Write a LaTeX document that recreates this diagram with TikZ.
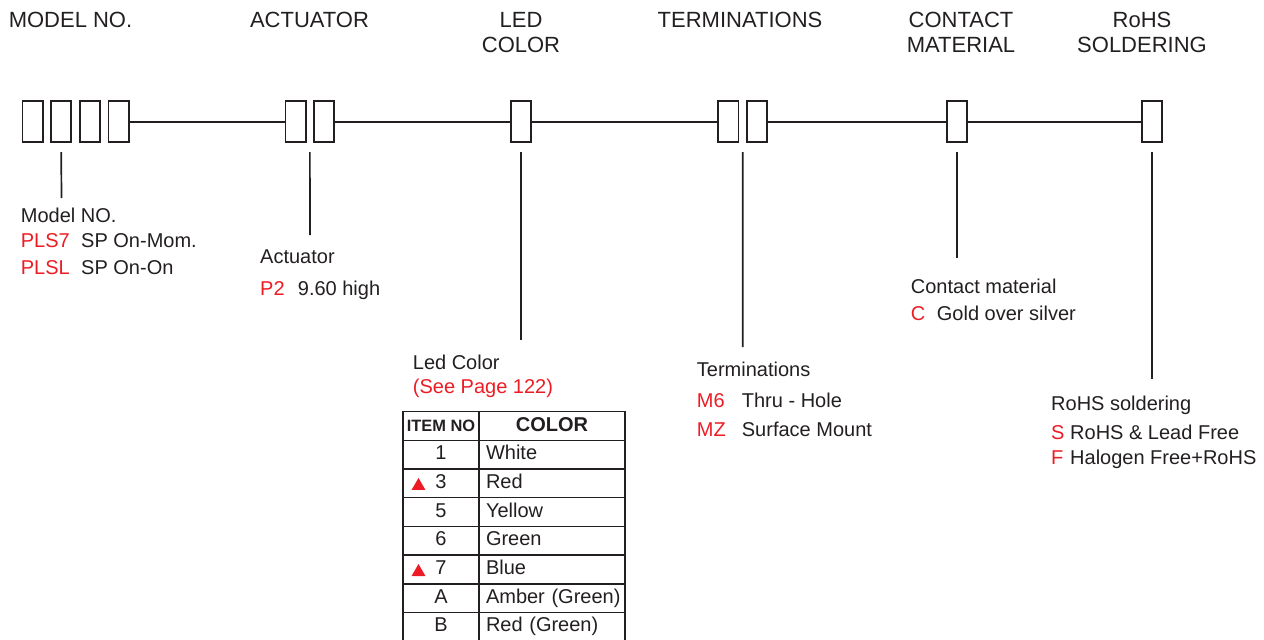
\documentclass[tikz,border=0pt]{standalone}
\usepackage{fontspec}
\setmainfont{Liberation Sans}
\usetikzlibrary{positioning,calc,shapes.geometric}
\definecolor{ink}{HTML}{231F20}
\definecolor{codered}{HTML}{ED1C24}
\newcommand{\code}[2]{\makebox[#1][l]{\textcolor{codered}{#2}}}

\begin{document}
\begin{tikzpicture}[x=1pt, y=-1pt, node distance=8.5pt, slot/.style={rectangle,draw=ink,line width=1.8pt,minimum width=20.2pt,minimum height=41.2pt,inner sep=0pt,outer sep=0pt}, bus/.style={draw=ink,line width=2pt}, lead/.style={draw=ink,line width=1.7pt}, head/.style={align=center,inner sep=0pt,text=ink,font=\fontsize{22}{25}\selectfont}, txt/.style={anchor=base west,inner sep=0pt,text=ink,font=\fontsize{20}{24}\selectfont}, cellno/.style={draw=ink,line width=1.4pt,minimum width=76pt,minimum height=28.7pt,inner sep=0pt,outer sep=0pt,text height=14pt,text depth=4pt,text=ink,font=\fontsize{20}{24}\selectfont}, cellcol/.style={cellno,minimum width=146pt,text width=132pt,align=left}, flag/.style={regular polygon,regular polygon sides=3,fill=codered,inner sep=0pt,minimum size=16pt}]
\useasboundingbox (0,0) rectangle (1264,640);
% column headings
\node[head,anchor=base] (hmodel) at (70.5,27.3) {MODEL NO.};
\node[head,anchor=base] (hact) at (309.5,27.3) {ACTUATOR};
\node[head,anchor=base] (hled) at (521,52.3) {LED\\COLOR};
\node[head,anchor=base] (hterm) at (740,27.3) {TERMINATIONS};
\node[head,anchor=base] (hcont) at (961,52.3) {CONTACT\\MATERIAL};
\node[head,anchor=base] (hrohs) at (1142,52.3) {RoHS\\SOLDERING};
% code slots
\node[slot] (m1) at (32.5,121.5) {};
\node[slot,right=of m1] (m2) {};
\node[slot,right=of m2] (m3) {};
\node[slot,right=of m3] (m4) {};
\node[slot] (a1) at (295.5,121.5) {};
\node[slot,right=of a1] (a2) {};
\node[slot] (led) at (521,121.5) {};
\node[slot] (t1) at (728.3,121.5) {};
\node[slot,right=of t1] (t2) {};
\node[slot] (cm) at (957,121.5) {};
\node[slot] (rs) at (1152,121.5) {};
\draw[bus] (m4.east) -- (a1.west);
\draw[bus] (a2.east) -- (led.west);
\draw[bus] (led.east) -- (t1.west);
\draw[bus] (t2.east) -- (cm.west);
\draw[bus] (cm.east) -- (rs.west);
% model no.
\node[txt] (mdl) at (20.7,222) {Model NO.};
\node[txt] (mdl1) at ([yshift=-25pt]mdl.base west) {\code{60.3pt}{PLS7}SP On-Mom.};
\node[txt] (mdl2) at ([yshift=-27pt]mdl1.base west) {\code{60.3pt}{PLSL}SP On-On};
\coordinate (mdltip) at (61.5,198);
\draw[lead] ([yshift=-10pt]m2.south) -- (mdltip);
% actuator
\node[txt] (act) at (260,263) {Actuator};
\node[txt] (act1) at ([yshift=-32pt]act.base west) {\code{37.7pt}{P2}9.60 high};
\coordinate (acttip) at (310,235);
\draw[lead] ([yshift=-10pt]$(a1.south)!.5!(a2.south)$) -- (acttip);
% led color
\node[txt] (ledc) at (412.7,369) {Led Color};
\node[txt,text=codered] (ledc1) at ([yshift=-24pt]ledc.base west) {(See Page 122)};
\coordinate (ledtip) at (521,340);
\draw[lead] ([yshift=-10pt]led.south) -- (ledtip);
% led color table
\node[cellno,font=\bfseries\fontsize{16.4}{20}\selectfont] (h1) at (441,426) {ITEM NO};
\node[cellno,below=0pt of h1] (n1) {1};
\node[cellno,below=0pt of n1] (n3) {3};
\node[cellno,below=0pt of n3] (n5) {5};
\node[cellno,below=0pt of n5] (n6) {6};
\node[cellno,below=0pt of n6] (n7) {7};
\node[cellno,below=0pt of n7] (nA) {A};
\node[cellno,below=0pt of nA] (nB) {B};
\node[cellcol,align=center,font=\bfseries\fontsize{20}{24}\selectfont] (h2) at (552,426) {COLOR};
\node[cellcol,below=0pt of h2] (c1) {White};
\node[cellcol,below=0pt of c1] (c3) {Red};
\node[cellcol,below=0pt of c3] (c5) {Yellow};
\node[cellcol,below=0pt of c5] (c6) {Green};
\node[cellcol,below=0pt of c6] (c7) {Blue};
\node[cellcol,below=0pt of c7] (cA) {\mbox{Amber (Green)}};
\node[cellcol,below=0pt of cA] (cB) {\mbox{Red (Green)}};
\node[flag] (f3) at ([xshift=-22.5pt,yshift=-2.5pt]n3.center) {};
\node[flag] (f7) at ([xshift=-22.5pt,yshift=-2.5pt]n7.center) {};
% terminations
\node[txt] (term) at (696.7,376) {Terminations};
\node[txt] (term1) at ([yshift=-31.7pt]term.base west) {\code{45pt}{M6}Thru - Hole};
\node[txt] (term2) at ([yshift=-28.3pt]term1.base west) {\code{45pt}{MZ}Surface Mount};
\coordinate (termtip) at (742.8,347);
\draw[lead] ([yshift=-10pt]$(t1.south)!.5!(t2.south)$) -- (termtip);
% contact material
\node[txt] (cont) at (910.7,293.3) {Contact material};
\node[txt] (cont1) at ([yshift=-26.7pt]cont.base west) {\code{26pt}{C}Gold over silver};
\coordinate (conttip) at (957,258);
\draw[lead] ([yshift=-10pt]cm.south) -- (conttip);
% rohs soldering
\node[txt] (rohs) at (1051,410.7) {RoHS soldering};
\node[txt] (rohs1) at ([yshift=-28.6pt]rohs.base west) {\code{19pt}{S}RoHS \& Lead Free};
\node[txt] (rohs2) at ([yshift=-24.7pt]rohs1.base west) {\code{19pt}{F}Halogen Free+RoHS};
\coordinate (rohstip) at (1152,379);
\draw[lead] ([yshift=-10pt]rs.south) -- (rohstip);
\end{tikzpicture}
\end{document}
